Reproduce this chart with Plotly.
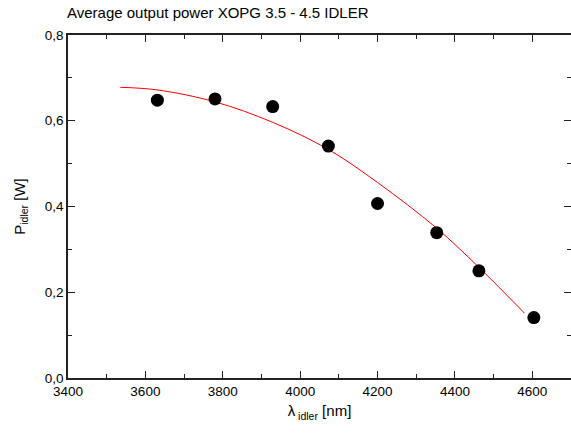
import plotly.graph_objects as go

# measured data (idler wavelength in nm, average power in W)
wavelength = [3631, 3780, 3929, 4073, 4200, 4353, 4462, 4604]
power = [0.648, 0.651, 0.633, 0.541, 0.407, 0.339, 0.250, 0.141]

# fitted curve
fit_wavelength = [3535, 3630, 3780, 3930, 4073, 4200, 4352, 4462, 4580]
fit_power = [0.678, 0.672, 0.644, 0.596, 0.533, 0.456, 0.350, 0.258, 0.151]

title_text = "Average output power XOPG 3.5 - 4.5 IDLER"

font_family = "Liberation Sans, Arial, sans-serif"

W, H = 571, 437

fig = go.Figure()
fig.add_trace(go.Scatter(
    x=fit_wavelength, y=fit_power, mode="lines",
    line=dict(color="#ff0000", width=1, shape="spline"),
    showlegend=False, hoverinfo="skip"))
fig.add_trace(go.Scatter(
    x=wavelength, y=power, mode="markers",
    marker=dict(color="black", size=13, symbol="circle"),
    showlegend=False))

axis_common = dict(
    showline=True, linecolor="#222222", linewidth=1.5, mirror="ticks",
    ticks="inside", ticklen=7, tickwidth=1.2, tickcolor="#222222",
    showgrid=False, zeroline=False, automargin=False,
    tickfont=dict(family=font_family, size=13.5, color="black"),
)

fig.update_layout(
    width=W, height=H,
    margin=dict(l=68, r=0, t=35, b=59),
    plot_bgcolor="white", paper_bgcolor="white",
    separators=", ",
    font=dict(family=font_family, color="black"),
    title=dict(text=title_text, x=67/W, xanchor="left", xref="container",
               yref="container", y=1-12.5/H, yanchor="middle",
               automargin=False,
               font=dict(family=font_family, size=15, color="black")),
    xaxis=dict(range=[3400, 4700], dtick=200, tick0=3400,
               minor=dict(ticks="inside", ticklen=4, dtick=100, tickcolor="#222222"),
               title=dict(text="λ<sub> idler</sub> [nm]", standoff=8,
                          font=dict(family=font_family, size=15)),
               **axis_common),
    yaxis=dict(range=[0, 0.8], dtick=0.2, tick0=0, tickformat=".1f",
               minor=dict(ticks="inside", ticklen=4, dtick=0.1, tickcolor="#222222"),
               title=dict(text="P<sub>idler</sub> [W]", standoff=16,
                          font=dict(family=font_family, size=15)),
               **axis_common),
)

fig.write_html("out.html",
               config={"displayModeBar": False},
               post_script="document.body.style.margin='0';document.body.style.padding='0';")
